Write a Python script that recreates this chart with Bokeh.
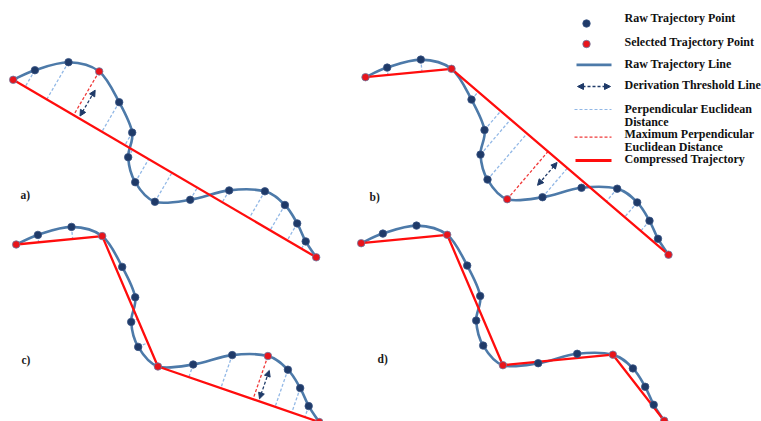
import numpy as np
from bokeh.plotting import figure
from bokeh.models import Range1d, Arrow, NormalHead
from bokeh.core.properties import value
from bokeh.embed import file_html
from bokeh.resources import INLINE

# Raw trajectory fixes, relative to the first fix (y grows downward)
traj_x = [0, 21.7, 55.3, 86, 106, 119, 115, 122, 141.7, 177, 216, 251.7, 271.7, 284, 292.5, 303]
traj_y = [0, -9.6, -17.6, -8.4, 22.4, 52.8, 77.4, 102.4, 122, 120, 110.6, 111.5, 125.2, 143.6, 161.6, 177.5]

# Douglas-Peucker steps: points kept so far and the farthest point found
panel_labels = ["a)", "b)", "c)", "d)"]
kept = [[0, 15], [0, 3, 15], [0, 3, 8, 15], [0, 3, 8, 11, 15]]
max_point = [3, 8, 11, None]
show_distances = [True, True, True, False]
threshold = 30

legend_labels = [
    ["Raw Trajectory Point"],
    ["Selected Trajectory Point"],
    ["Raw Trajectory Line"],
    ["Derivation Threshold Line"],
    ["Perpendicular Euclidean", "Distance"],
    ["Maximum Perpendicular", "Euclidean Distance"],
    ["Compressed Trajectory"],
]

# layout
W, H = 761, 421
origins = [(12.7, 79.3), (365.0, 76.7), (15.7, 244.0), (360.7, 242.7)]
label_pos = [(20, 194), (369, 196), (21, 359), (377, 358)]
arrow_shift = [6, 14, 6, None]

NAVY = "#1f3a68"
CURVE = "#4d7aa9"
RED = "#ff0d0d"
LIGHT = "#92b8e6"
REDDASH = "#f03a3a"
FONT = value("Liberation Serif")

p = figure(width=W, height=H, x_range=Range1d(0, W), y_range=Range1d(H, 0),
           output_backend="svg", toolbar_location=None, min_border=0,
           x_axis_type=None, y_axis_type=None)
p.grid.visible = False
p.outline_line_color = None
p.background_fill_color = "white"

tx = np.array(traj_x)
ty = np.array(traj_y)


def foot(px, py, ax, ay, bx, by):
    dx, dy = bx - ax, by - ay
    t = ((px - ax) * dx + (py - ay) * dy) / (dx * dx + dy * dy)
    return ax + t * dx, ay + t * dy


def add_arrow(x0, y0, x1, y1):
    head = dict(size=6, fill_color=NAVY, line_color=NAVY, line_width=1)
    p.add_layout(Arrow(start=NormalHead(**head), end=NormalHead(**head),
                       x_start=x0, y_start=y0, x_end=x1, y_end=y1,
                       line_color=NAVY, line_width=1.3, line_dash="3 2"))


for k in range(4):
    ox, oy = origins[k]
    X = tx + ox
    Y = ty + oy
    keep = kept[k]
    mp = max_point[k]

    # perpendicular distances of intermediate points to their segment
    if show_distances[k]:
        xs, ys, rxs, rys = [], [], [], []
        for a, b in zip(keep[:-1], keep[1:]):
            for i in range(a + 1, b):
                fx, fy = foot(X[i], Y[i], X[a], Y[a], X[b], Y[b])
                if i == mp:
                    rxs.append([X[i], fx]); rys.append([Y[i], fy])
                else:
                    xs.append([X[i], fx]); ys.append([Y[i], fy])
        p.multi_line(xs, ys, line_color=LIGHT, line_width=1.3, line_dash="3 2")
        p.multi_line(rxs, rys, line_color=REDDASH, line_width=1.3, line_dash="3 2")

    # smooth raw trajectory (Catmull-Rom as cubic Bezier pieces)
    n = len(X)
    Xp = np.concatenate([[X[0]], X, [X[-1]]])
    Yp = np.concatenate([[Y[0]], Y, [Y[-1]]])
    x0 = X[:-1]; y0 = Y[:-1]; x1 = X[1:]; y1 = Y[1:]
    cx0 = Xp[1:n] + (Xp[2:n + 1] - Xp[0:n - 1]) / 6
    cy0 = Yp[1:n] + (Yp[2:n + 1] - Yp[0:n - 1]) / 6
    cx1 = Xp[2:n + 1] - (Xp[3:n + 2] - Xp[1:n]) / 6
    cy1 = Yp[2:n + 1] - (Yp[3:n + 2] - Yp[1:n]) / 6
    p.bezier(x0=x0, y0=y0, x1=x1, y1=y1, cx0=cx0, cy0=cy0, cx1=cx1, cy1=cy1,
             line_color=CURVE, line_width=2.6)

    # compressed trajectory
    p.line(X[keep], Y[keep], line_color=RED, line_width=2.3)

    # threshold arrow next to the farthest point's distance
    if mp is not None:
        a = max(i for i in keep if i < mp)
        b = min(i for i in keep if i > mp)
        fx, fy = foot(X[mp], Y[mp], X[a], Y[a], X[b], Y[b])
        ux, uy = X[b] - X[a], Y[b] - Y[a]
        L = np.hypot(ux, uy); ux, uy = ux / L, uy / L
        nx, ny = X[mp] - fx, Y[mp] - fy
        D = np.hypot(nx, ny); nx, ny = nx / D, ny / D
        s = arrow_shift[k]
        sx, sy = fx + s * ux + 2.5 * nx, fy + s * uy + 2.5 * ny
        add_arrow(sx, sy, sx + threshold * nx, sy + threshold * ny)

    # points
    sel = sorted(set(keep) | ({mp} if mp is not None else set()))
    raw = [i for i in range(n) if i not in sel]
    p.scatter(X[raw], Y[raw], size=7.5, fill_color=NAVY, line_color="#3a5585", line_width=0.8)
    p.scatter(X[sel], Y[sel], size=7.5, fill_color="#e8141b", line_color="#6a7ea6", line_width=0.8)

    lx, ly = label_pos[k]
    p.text([lx], [ly], text=[panel_labels[k]], text_font=FONT, text_font_style="bold",
           text_font_size="11.5px", text_color="#1a1a1a", text_baseline="middle")

# legend
lgx0, lgx1 = 576, 611
p.scatter([586], [23], size=7.5, fill_color=NAVY, line_color="#3a5585", line_width=0.8)
p.scatter([586], [43.5], size=7.5, fill_color="#e8141b", line_color="#6a7ea6", line_width=0.8)
p.line([lgx0, lgx1], [64.3, 64.3], line_color=CURVE, line_width=2.8)
add_arrow(lgx0 + 1, 86, lgx1 - 1, 86)
p.line([lgx0 - 2, lgx1], [109, 109], line_color=LIGHT, line_width=1.2, line_dash="3 2")
p.line([lgx0 - 2, lgx1], [136.7, 136.7], line_color=REDDASH, line_width=1.2, line_dash="3 2")
p.line([lgx0 - 1, lgx1], [160, 160], line_color=RED, line_width=2.8)

text_rows = [[17.3], [41.7], [63.3], [84.3], [108, 121], [133, 146], [158.5]]
tx_l, ty_l, tt_l = [], [], []
for labels, ys in zip(legend_labels, text_rows):
    for t, y in zip(labels, ys):
        tx_l.append(624); ty_l.append(y); tt_l.append(t)
p.text(tx_l, ty_l, text=tt_l, text_font=FONT, text_font_style="bold",
       text_font_size="12px", text_color="#111111", text_baseline="middle")

open("out.html", "w").write(file_html(p, INLINE))
